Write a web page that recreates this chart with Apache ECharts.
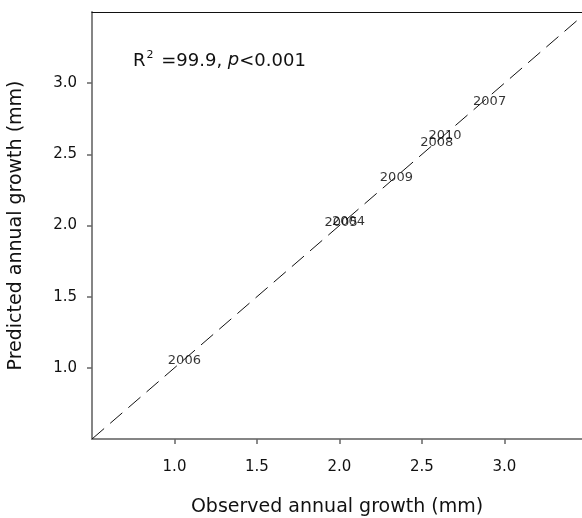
<!DOCTYPE html>
<html>
<head>
<meta charset="utf-8">
<script src="https://cdn.jsdelivr.net/npm/echarts@6/dist/echarts.min.js"></script>
<style>
  html, body { margin: 0; padding: 0; background: #fff; }
  #main { width: 582px; height: 518px; }
</style>
</head>
<body>
<div id="main"></div>
<script>
// years (point labels) and observed / predicted growth (mm)
const years = ['2004', '2005', '2006', '2007', '2008', '2009', '2010'];
const observed = [2.055, 2.01, 1.06, 2.91, 2.59, 2.345, 2.64];
const predicted = [2.03, 2.02, 1.05, 2.87, 2.58, 2.336, 2.63];
const tickValues = [1.0, 1.5, 2.0, 2.5, 3.0];
const oneToOne = [[0.5, 0.5], [3.5, 3.5]];

const points = years.map((y, i) => [observed[i], predicted[i], y]);

const font = 'DejaVu Sans, sans-serif';
const ink = '#111';

const chart = echarts.init(document.getElementById('main'));
chart.setOption({
  animation: false,
  grid: { left: 92, right: 0, top: 12, bottom: 79, outerBoundsMode: 'none' },
  xAxis: [{
    type: 'value',
    min: 0.5,
    max: 3.47,
    splitLine: { show: false },
    axisLine: { lineStyle: { color: '#858585', width: 2 } },
    axisTick: { customValues: tickValues, length: 5, lineStyle: { color: '#666', width: 1.5 } },
    axisLabel: {
      customValues: tickValues,
      formatter: v => v.toFixed(1),
      color: ink, fontSize: 15, fontFamily: font, margin: 21
    },
    name: 'Observed annual growth (mm)',
    nameLocation: 'middle',
    nameGap: 59,
    nameTextStyle: { color: ink, fontSize: 19, fontFamily: font }
  }, {
    type: 'value',
    position: 'top',
    min: 0.5,
    max: 3.47,
    splitLine: { show: false },
    axisLine: { show: true, lineStyle: { color: '#111', width: 1.2 } },
    axisTick: { show: false },
    axisLabel: { show: false }
  }],
  yAxis: {
    type: 'value',
    min: 0.5,
    max: 3.5,
    splitLine: { show: false },
    axisLine: { show: true, lineStyle: { color: '#858585', width: 2 } },
    axisTick: { show: true, customValues: tickValues, length: 5, lineStyle: { color: '#666', width: 1.5 } },
    axisLabel: {
      customValues: tickValues,
      formatter: v => v.toFixed(1),
      color: ink, fontSize: 15, fontFamily: font, margin: 15
    },
    name: 'Predicted annual growth (mm)',
    nameLocation: 'middle',
    nameGap: 66,
    nameTextStyle: { color: ink, fontSize: 19, fontFamily: font }
  },
  graphic: [{
    type: 'text',
    left: 133,
    top: 50,
    style: {
      text: '{n|R}{s|2}{n| =99.9, }{i|p}{n|<0.001}',
      rich: {
        n: { fontSize: 18, fontFamily: font, fill: ink, verticalAlign: 'bottom' },
        s: { fontSize: 11, fontFamily: font, fill: ink, verticalAlign: 'top', padding: [0, 2, 9, 1] },
        i: { fontSize: 18, fontFamily: font, fill: ink, fontStyle: 'italic' }
      }
    }
  }],
  series: [{
    type: 'line',
    data: oneToOne,
    symbol: 'none',
    clip: true,
    lineStyle: { color: '#111', width: 1, type: [16, 8] },
    silent: true
  }, {
    type: 'scatter',
    data: points,
    symbolSize: 0,
    label: {
      show: true,
      position: 'inside',
      formatter: p => p.data[2],
      color: '#000',
      fontSize: 13,
      fontFamily: font
    }
  }]
});
</script>
</body>
</html>
